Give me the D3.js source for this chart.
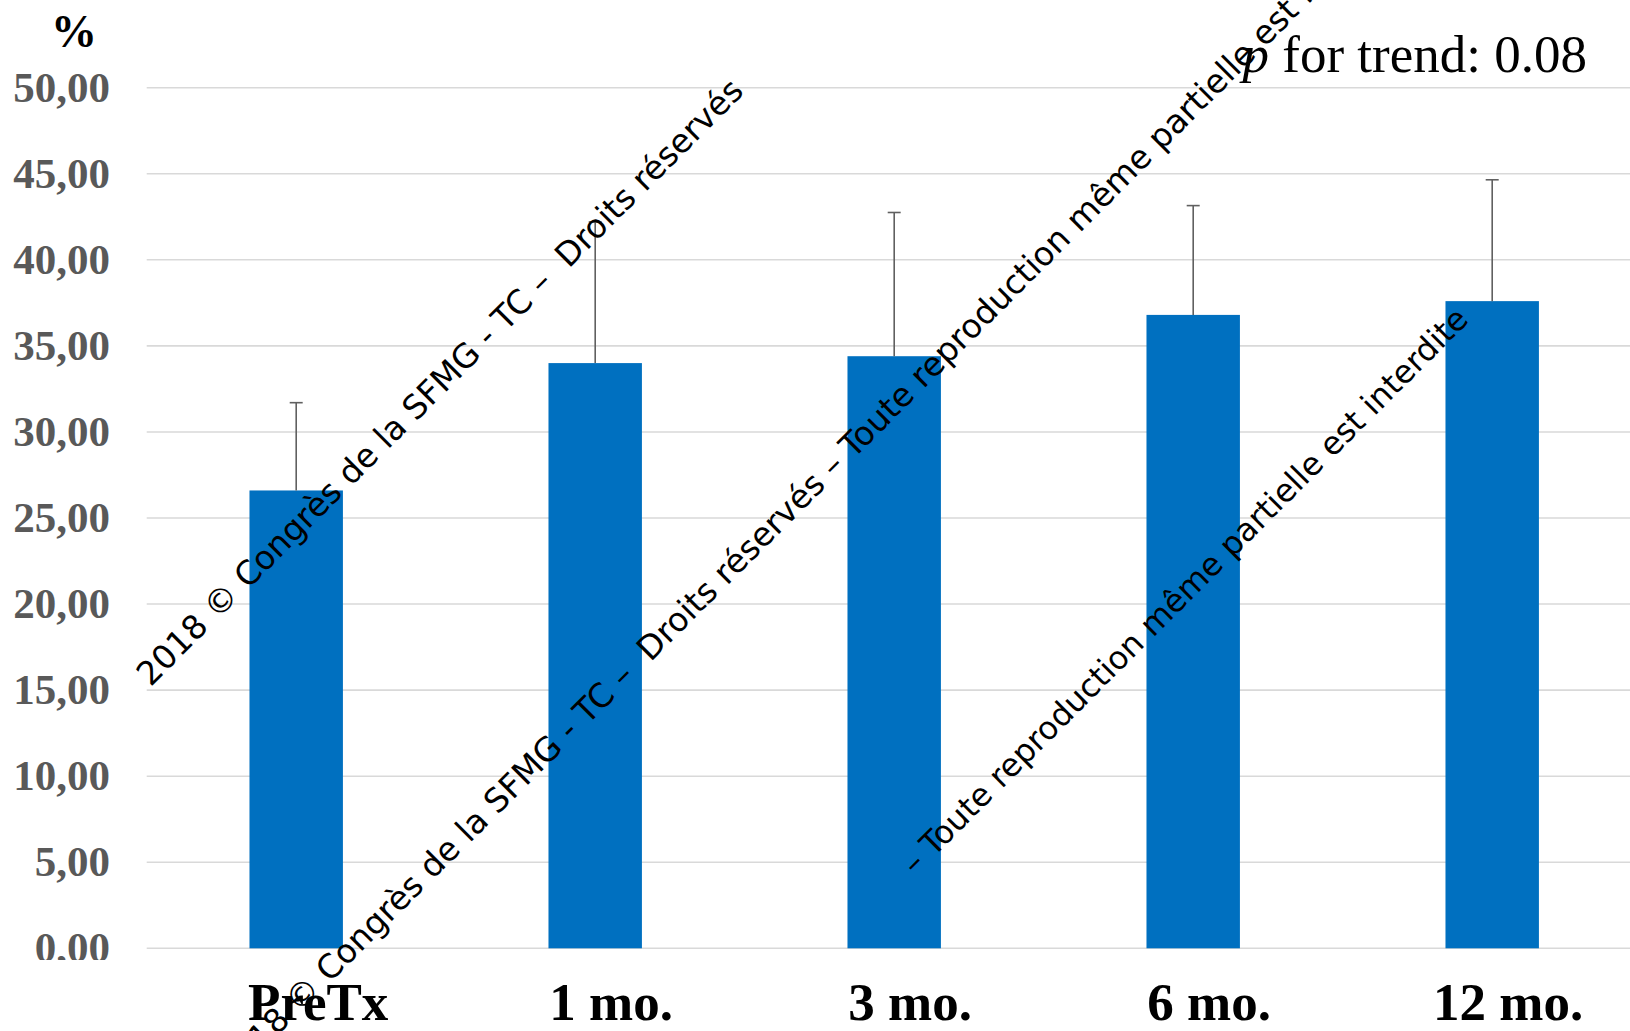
<!DOCTYPE html>
<html>
<head>
<meta charset="utf-8">
<script src="https://cdn.jsdelivr.net/npm/d3@7"></script>
<style>
  html, body { margin: 0; padding: 0; background: #fff; overflow: hidden; }
  svg { display: block; }
</style>
</head>
<body>
<svg id="chart" width="1630" height="1031"></svg>
<script>
// Follow-up time points
const categories = ["PreTx", "1 mo.", "3 mo.", "6 mo.", "12 mo."];
// Mean percentage at each time point
const means = [26.6, 34.0, 34.4, 36.8, 37.6];
// Standard deviation (upper error bar only)
const sds = [5.1, 8.2, 8.35, 6.35, 7.05];
// Y axis ticks
const yTicks = [0, 5, 10, 15, 20, 25, 30, 35, 40, 45, 50];
const yTickLabels = ["0,00", "5,00", "10,00", "15,00", "20,00", "25,00", "30,00", "35,00", "40,00", "45,00", "50,00"];
// Watermark pieces
const watermarkA = "2018 \u00a9 Congr\u00e8s de la SFMG - TC \u2013\u00a0 Droits r\u00e9serv\u00e9s";
const watermarkB = "2018 \u00a9 Congr\u00e8s de la SFMG - TC \u2013\u00a0 Droits r\u00e9serv\u00e9s \u2013 Toute reproduction m\u00eame partielle est interdite";
const watermarkC = "\u2013 Toute reproduction m\u00eame partielle est interdite";

const svg = d3.select("#chart");

const plotLeft = 146.7, step = 299;
const x = d3.scaleBand()
  .domain(categories)
  .range([plotLeft, plotLeft + step * categories.length])
  .paddingInner(0.6875)
  .paddingOuter(0.34375);

const y = d3.scaleLinear().domain([0, 50]).range([948.3, 87.7]);

// Gridlines
svg.append("g")
  .selectAll("line")
  .data(yTicks)
  .join("line")
  .attr("x1", plotLeft)
  .attr("x2", 1640)
  .attr("y1", d => y(d))
  .attr("y2", d => y(d))
  .attr("stroke", "#d9d9d9")
  .attr("stroke-width", 1.6);

// Y tick labels (clipped at the bottom of the chart frame)
svg.append("clipPath").attr("id", "yclip")
  .append("rect").attr("x", 0).attr("y", 0).attr("width", 140).attr("height", 960);

svg.append("g")
  .attr("clip-path", "url(#yclip)")
  .selectAll("text")
  .data(yTicks)
  .join("text")
  .attr("x", 110)
  .attr("y", d => y(d))
  .attr("dy", "0.33em")
  .attr("text-anchor", "end")
  .attr("font-family", "'Liberation Serif', 'Times New Roman', serif")
  .attr("font-weight", "bold")
  .attr("font-size", 43)
  .attr("fill", "#595959")
  .text((d, i) => yTickLabels[i]);

// Unit label
svg.append("text")
  .attr("x", 74)
  .attr("y", 47)
  .attr("text-anchor", "middle")
  .attr("font-family", "'Liberation Serif', 'Times New Roman', serif")
  .attr("font-weight", "bold")
  .attr("font-size", 46)
  .attr("fill", "#000")
  .text("%");

// Bars
svg.append("g")
  .selectAll("rect")
  .data(categories)
  .join("rect")
  .attr("x", d => x(d))
  .attr("width", x.bandwidth())
  .attr("y", (d, i) => y(means[i]))
  .attr("height", (d, i) => y(0) - y(means[i]))
  .attr("fill", "#0070c0");

// Upper error bars
const eb = svg.append("g").attr("stroke", "#606060").attr("stroke-width", 1.6);
categories.forEach((c, i) => {
  const cx = x(c) + x.bandwidth() / 2;
  eb.append("line")
    .attr("x1", cx).attr("x2", cx)
    .attr("y1", y(means[i])).attr("y2", y(means[i] + sds[i]));
  eb.append("line")
    .attr("x1", cx - 6.5).attr("x2", cx + 6.5)
    .attr("y1", y(means[i] + sds[i])).attr("y2", y(means[i] + sds[i]));
});

// Category labels
svg.append("g")
  .selectAll("text")
  .data(categories)
  .join("text")
  .attr("x", (d, i) => x(d) + x.bandwidth() / 2 + (i === 0 ? 22 : 16))
  .attr("y", 1020)
  .attr("text-anchor", "middle")
  .attr("font-family", "'Liberation Serif', 'Times New Roman', serif")
  .attr("font-weight", "bold")
  .attr("font-size", 53)
  .attr("fill", "#000")
  .text(d => d);

// Trend test annotation
const ptxt = svg.append("text")
  .attr("x", 1587)
  .attr("y", 72)
  .attr("text-anchor", "end")
  .attr("font-family", "'Liberation Serif', 'Times New Roman', serif")
  .attr("font-size", 53)
  .attr("fill", "#000");
ptxt.append("tspan").attr("font-style", "italic").text("p");
ptxt.append("tspan").text(" for trend: 0.08");

// Diagonal watermark
const wm = svg.append("g")
  .attr("font-family", "'DejaVu Sans', Verdana, sans-serif")
  .attr("fill", "#000");
[
  { t: watermarkA, x: 150.4, y: 687.4, size: 33 },
  { t: watermarkB, x: 232.1, y: 1080.8, size: 33 },
  { t: watermarkC, x: 915, y: 876, size: 32 }
].forEach(w => {
  wm.append("text")
    .attr("transform", `translate(${w.x},${w.y}) rotate(-45)`)
    .attr("font-size", w.size)
    .attr("xml:space", "preserve")
    .style("white-space", "pre")
    .text(w.t);
});
</script>
</body>
</html>
